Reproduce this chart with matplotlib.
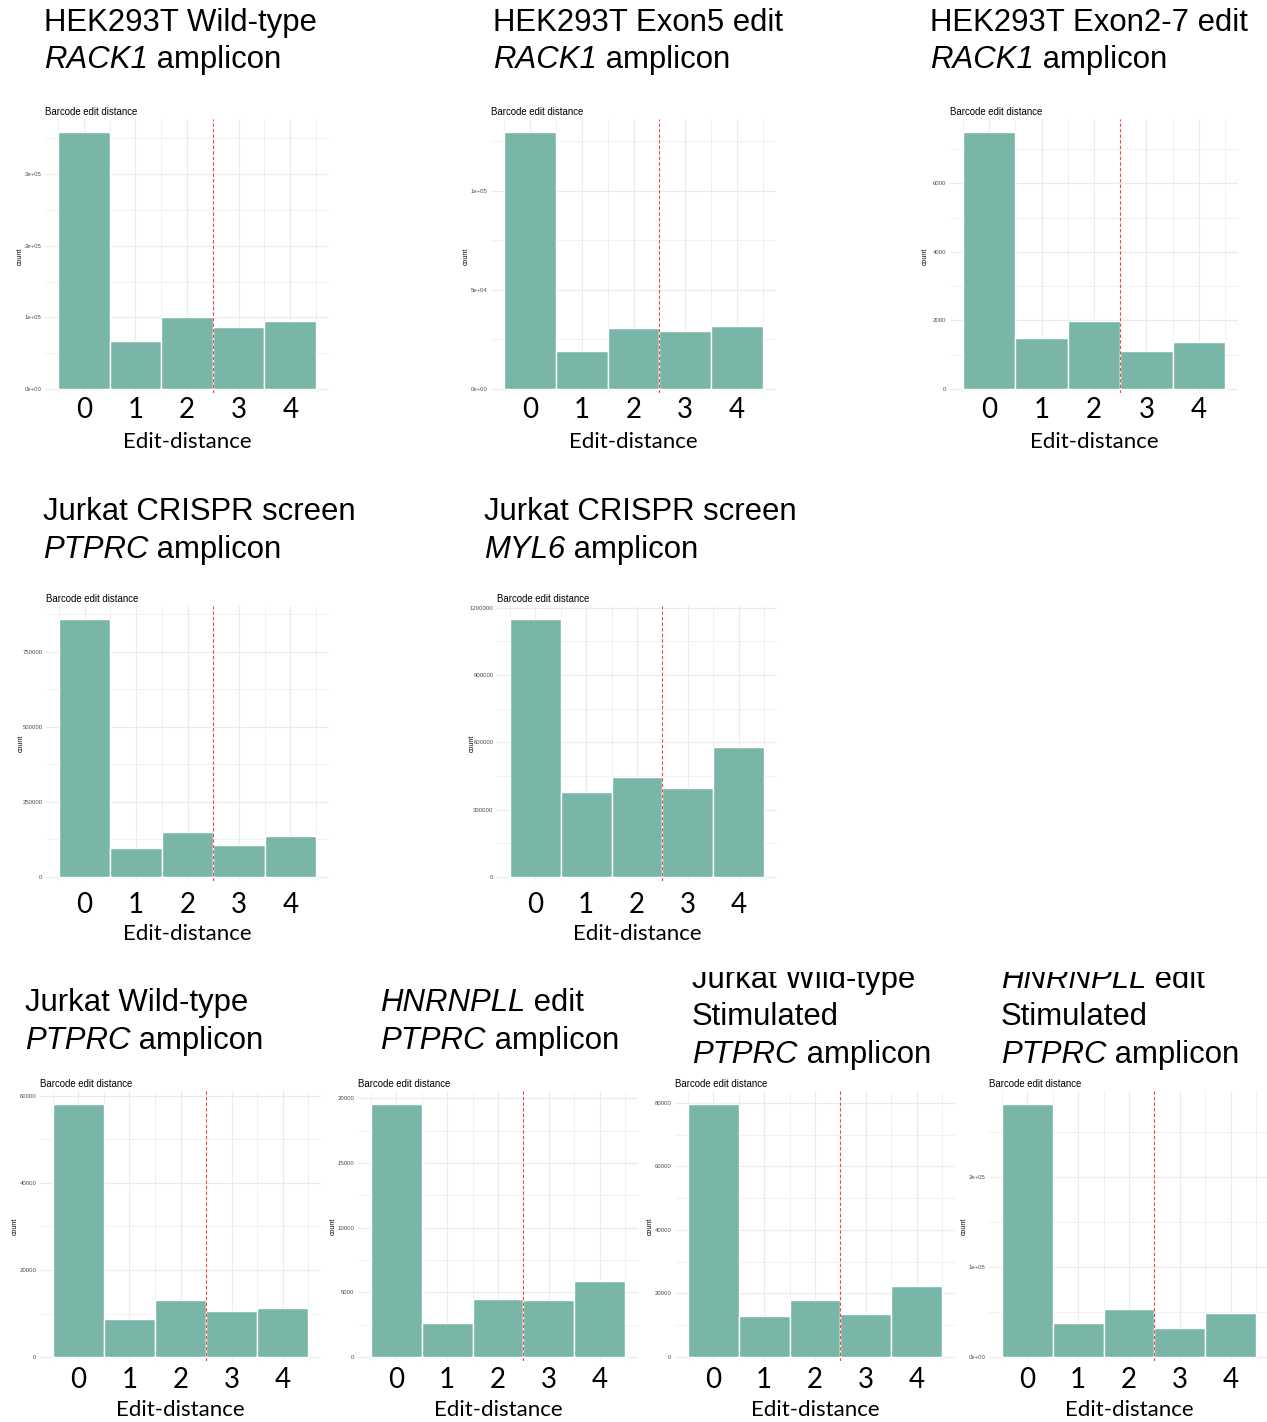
import numpy as np
import matplotlib.pyplot as plt
from matplotlib.transforms import Bbox, TransformedBbox

W, H = 1267, 1422
plt.rcParams['font.family'] = ['Liberation Sans', 'DejaVu Sans']

edit_distance = [0, 1, 2, 3, 4]
cutoff = 2.5

# reads per barcode edit distance
hek_wt = [359000, 67000, 100000, 87000, 95000]
hek_exon5 = [129800, 19200, 30800, 29300, 31800]
hek_exon27 = [7500, 1490, 1990, 1120, 1370]
jurkat_screen_ptprc = [860000, 97000, 150000, 105000, 137000]
jurkat_screen_myl6 = [1150000, 380000, 447000, 395000, 580000]
jurkat_wt = [58200, 8800, 13000, 10500, 11300]
hnrnpll = [19600, 2650, 4500, 4450, 5850]
jurkat_wt_stim = [79700, 12900, 18000, 13400, 22300]
hnrnpll_stim = [281000, 37800, 53300, 32200, 48900]

# y axis breaks and their labels
yt_hek_wt = [0, 1e5, 2e5, 3e5]
yl_hek_wt = ['0e+00', '1e+05', '2e+05', '3e+05']
yt_hek_exon5 = [0, 5e4, 1e5]
yl_hek_exon5 = ['0e+00', '5e+04', '1e+05']
yt_hek_exon27 = [0, 2000, 4000, 6000]
yl_hek_exon27 = ['0', '2000', '4000', '6000']
yt_screen_ptprc = [0, 250000, 500000, 750000]
yl_screen_ptprc = ['0', '250000', '500000', '750000']
yt_screen_myl6 = [0, 300000, 600000, 900000, 1200000]
yl_screen_myl6 = ['0', '300000', '600000', '900000', '1200000']
yt_jurkat_wt = [0, 20000, 40000, 60000]
yl_jurkat_wt = ['0', '20000', '40000', '60000']
yt_hnrnpll = [0, 5000, 10000, 15000, 20000]
yl_hnrnpll = ['0', '5000', '10000', '15000', '20000']
yt_jurkat_wt_stim = [0, 20000, 40000, 60000, 80000]
yl_jurkat_wt_stim = ['0', '20000', '40000', '60000', '80000']
yt_hnrnpll_stim = [0, 1e5, 2e5]
yl_hnrnpll_stim = ['0e+00', '1e+05', '2e+05']

# panel headings: lines of (text, italic) pieces
t_hek_wt = [[('HEK293T Wild-type', False)], [('RACK1', True), (' amplicon', False)]]
t_hek_exon5 = [[('HEK293T Exon5 edit', False)], [('RACK1', True), (' amplicon', False)]]
t_hek_exon27 = [[('HEK293T Exon2-7 edit', False)], [('RACK1', True), (' amplicon', False)]]
t_screen_ptprc = [[('Jurkat CRISPR screen', False)], [('PTPRC', True), (' amplicon', False)]]
t_screen_myl6 = [[('Jurkat CRISPR screen', False)], [('MYL6', True), (' amplicon', False)]]
t_jurkat_wt = [[('Jurkat Wild-type', False)], [('PTPRC', True), (' amplicon', False)]]
t_hnrnpll = [[('HNRNPLL', True), (' edit', False)], [('PTPRC', True), (' amplicon', False)]]
t_jurkat_wt_stim = [[('Jurkat Wild-type', False)], [('Stimulated', False)],
                    [('PTPRC', True), (' amplicon', False)]]
t_hnrnpll_stim = [[('HNRNPLL', True), (' edit', False)], [('Stimulated', False)],
                  [('PTPRC', True), (' amplicon', False)]]

# layout in pixels: panel box, heading position, tick/label offsets
row1 = dict(top=119, bottom=393, tick_pad=2.6, xlab_gap=39, clip=None)
row2 = dict(top=606, bottom=881, tick_pad=7.6, xlab_gap=43, clip=None)
row3 = dict(top=1091, bottom=1361, tick_pad=4.0, xlab_gap=39, clip=972)

panels = [
    (hek_wt, yt_hek_wt, yl_hek_wt, t_hek_wt, row1, 45, 329, 44, [31, 68]),
    (hek_exon5, yt_hek_exon5, yl_hek_exon5, t_hek_exon5, row1, 491, 776, 493, [31, 68]),
    (hek_exon27, yt_hek_exon27, yl_hek_exon27, t_hek_exon27, row1, 950, 1238, 930, [31, 68]),
    (jurkat_screen_ptprc, yt_screen_ptprc, yl_screen_ptprc, t_screen_ptprc, row2, 46, 329, 43, [520, 558]),
    (jurkat_screen_myl6, yt_screen_myl6, yl_screen_myl6, t_screen_myl6, row2, 497, 777, 484, [520, 558]),
    (jurkat_wt, yt_jurkat_wt, yl_jurkat_wt, t_jurkat_wt, row3, 40, 321, 25, [1011, 1049]),
    (hnrnpll, yt_hnrnpll, yl_hnrnpll, t_hnrnpll, row3, 358, 638, 380, [1011, 1049]),
    (jurkat_wt_stim, yt_jurkat_wt_stim, yl_jurkat_wt_stim, t_jurkat_wt_stim, row3, 675, 955, 692, [988, 1025, 1063]),
    (hnrnpll_stim, yt_hnrnpll_stim, yl_hnrnpll_stim, t_hnrnpll_stim, row3, 989, 1269, 1001, [988, 1025, 1063]),
]

bar_color = '#79B6A8'
grid_color = '#EBEBEB'
head_size = 22.4

fig = plt.figure(figsize=(W / 100, H / 100), dpi=100)
fig.patch.set_facecolor('white')
bg = fig.add_axes([0, 0, 1, 1])
bg.axis('off')


def heading(lines, x, baselines, clip_top):
    clipbox = None
    if clip_top is not None:
        clipbox = TransformedBbox(Bbox.from_extents(0, 0, 1, 1 - clip_top / H), fig.transFigure)
    for pieces, base in zip(lines, baselines):
        prev = None
        for txt, ital in pieces:
            style = 'italic' if ital else 'normal'
            if prev is None:
                t = bg.text(x / W, 1 - base / H, txt, transform=fig.transFigure,
                            fontsize=head_size, style=style, va='baseline', ha='left')
            else:
                t = bg.annotate(txt, xy=(1, 0), xycoords=prev, fontsize=head_size,
                                style=style, va='bottom', ha='left')
            if clipbox is not None:
                t.set_clip_on(True)
                t.set_clip_box(clipbox)
            prev = t


for counts, yticks, ylabels, title, row, left, right, tx, tbases in panels:
    top, bottom = row['top'], row['bottom']
    ax = fig.add_axes([left / W, 1 - bottom / H, (right - left) / W, (bottom - top) / H])
    m = max(counts)
    ax.bar(edit_distance, counts, width=1, color=bar_color, edgecolor='white',
           linewidth=1.0, zorder=2)
    ax.axvline(cutoff, color='#F04848', lw=0.8, ls=(0, (3, 2)), zorder=3)
    ax.set_xlim(-0.75, 4.75)
    ax.set_ylim(-0.0156 * m, 1.05 * m)

    ax.set_xticks(edit_distance)
    ax.set_xticklabels([str(v) for v in edit_distance], fontfamily='Lato', fontsize=20)
    ax.set_xticks(np.arange(-0.5, 5, 1.0), minor=True)
    step = yticks[1] - yticks[0]
    ax.set_yticks(yticks)
    ax.set_yticklabels(ylabels, fontsize=4.3, color='#4D4D4D')
    ax.set_yticks(np.arange(step / 2, 1.05 * m, step), minor=True)
    ax.tick_params(which='both', length=0)
    ax.tick_params(axis='x', pad=row['tick_pad'])
    ax.tick_params(axis='y', pad=2.5)

    ax.grid(which='major', color=grid_color, lw=0.8, zorder=0)
    ax.grid(which='minor', color=grid_color, lw=0.5, zorder=0)
    ax.set_axisbelow(True)
    for s in ax.spines.values():
        s.set_visible(False)

    ph = bottom - top
    pw = right - left
    ax.set_xlabel('Edit-distance', fontfamily='Lato', fontsize=16)
    ax.xaxis.set_label_coords(0.5, -row['xlab_gap'] / ph)
    ax.set_ylabel('count', fontsize=5)
    ax.yaxis.set_label_coords(-21 / pw, 0.5)
    ax.set_title('Barcode edit distance', loc='left', fontsize=6.9, pad=3)

    heading(title, tx, tbases, row['clip'])

fig.savefig('out.png', dpi=100)
